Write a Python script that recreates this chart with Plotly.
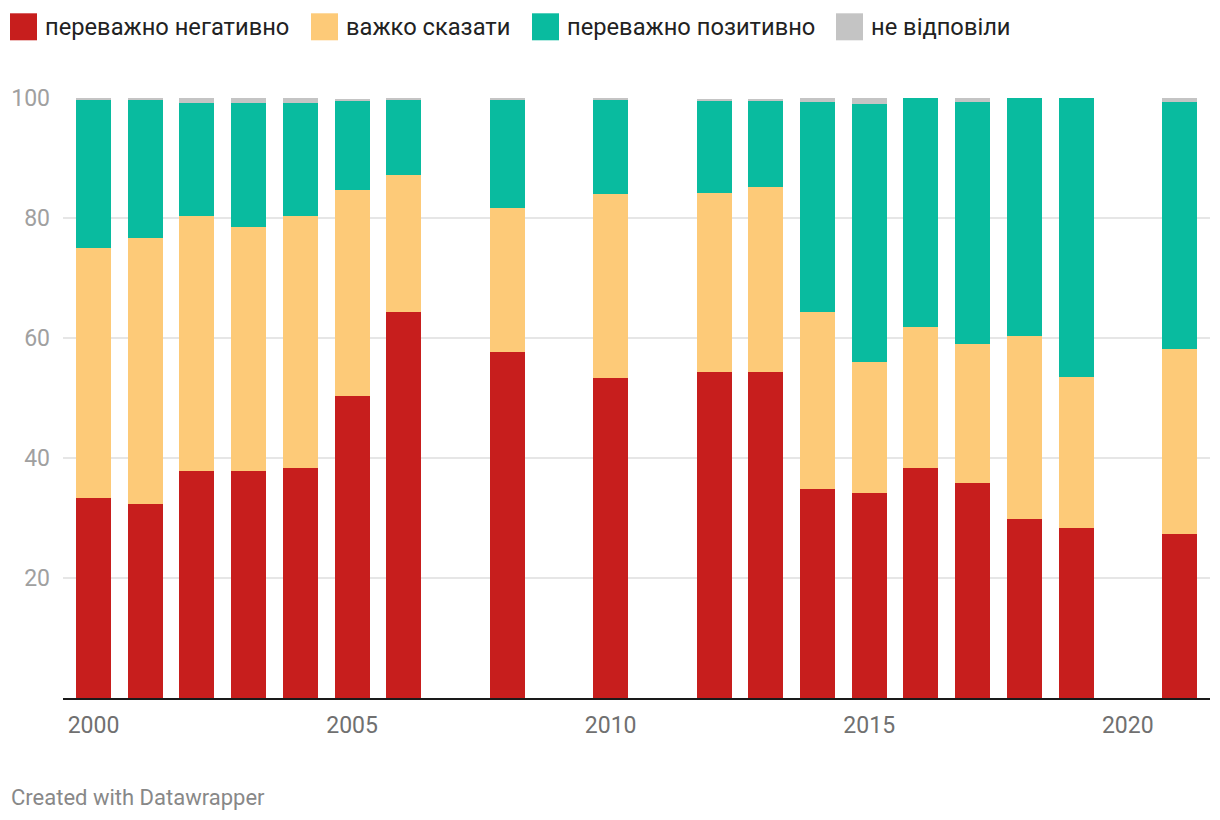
import plotly.graph_objects as go

years = [2000, 2001, 2002, 2003, 2004, 2005, 2006, 2008, 2010, 2012, 2013,
         2014, 2015, 2016, 2017, 2018, 2019, 2021]
negative = [33.4, 32.4, 37.8, 37.8, 38.4, 50.3, 64.3, 57.6, 53.3, 54.3, 54.3,
            34.8, 34.1, 38.3, 35.8, 29.8, 28.4, 27.3]
hard_to_say = [41.6, 44.3, 42.6, 40.7, 42.0, 34.3, 22.8, 24.0, 30.7, 29.8, 30.8,
               29.6, 21.9, 23.5, 23.2, 30.5, 25.1, 30.8]
positive = [24.8, 22.9, 18.7, 20.6, 18.7, 15.0, 12.7, 18.0, 15.6, 15.4, 14.4,
            34.9, 43.0, 38.2, 40.3, 39.7, 46.5, 41.2]
no_answer = [0.2, 0.4, 0.9, 0.9, 0.9, 0.2, 0.2, 0.4, 0.4, 0.4, 0.4,
             0.7, 1.0, 0.0, 0.7, 0.0, 0.0, 0.7]

series_names = ["переважно негативно", "важко сказати", "переважно позитивно", "не відповіли"]
series_colors = ["#c71e1d", "#fdca78", "#09bb9f", "#c4c4c4"]
series_values = [negative, hard_to_say, positive, no_answer]

y_ticks = [20, 40, 60, 80, 100]
x_ticks = [2000, 2005, 2010, 2015, 2020]

FONT = "Roboto, Arial, sans-serif"
OFF = 8  # default page body margin
W, H = 1220 - 2 * OFF, 820 - 2 * OFF
PLOT_LEFT, PLOT_RIGHT, PLOT_TOP, PLOT_BOTTOM = 63, 1210, 97.7, 697.7  # page pixels
ML = PLOT_LEFT - OFF
MR = W - (PLOT_RIGHT - OFF)
MT = PLOT_TOP - OFF
MB = H - (PLOT_BOTTOM - OFF)

fig = go.Figure()
for name, color, vals in zip(series_names, series_colors, series_values):
    fig.add_trace(go.Bar(x=years, y=vals, name=name, marker_color=color,
                         marker_line_width=0, width=0.677, showlegend=False))

fig.update_layout(
    barmode="stack",
    width=W, height=H,
    margin=dict(l=ML, r=MR, t=MT, b=MB, pad=0),
    plot_bgcolor="white", paper_bgcolor="white",
    font=dict(family=FONT),
    xaxis=dict(range=[1999.41, 2021.59], tickvals=x_ticks, ticktext=[str(v) for v in x_ticks],
               showgrid=False, zeroline=False, showline=True, linecolor="#1a1a1a", linewidth=2,
               ticks="", tickfont=dict(size=23, color="#707070", family=FONT),
               ticklabelstandoff=5),
    yaxis=dict(range=[0, 100], tickvals=y_ticks, showgrid=True, gridcolor="#e6e6e6", gridwidth=2,
               zeroline=False, showline=False, ticks="",
               tickfont=dict(size=23, color="#a0a0a0", family=FONT), ticklabelstandoff=12),
)

pw = W - ML - MR
ph = H - MT - MB


def px_x(px):
    return (px - PLOT_LEFT) / pw


def px_y(py):
    return (PLOT_BOTTOM - py) / ph


legend_x = [10, 311, 532, 836]
for name, color, lx in zip(series_names, series_colors, legend_x):
    fig.add_shape(type="rect", xref="paper", yref="paper",
                  x0=px_x(lx), x1=px_x(lx + 27), y0=px_y(40), y1=px_y(13),
                  fillcolor=color, line_width=0)
    fig.add_annotation(text=name, xref="paper", yref="paper", x=px_x(lx + 33), y=px_y(27),
                       xanchor="left", yanchor="middle", showarrow=False,
                       font=dict(size=23.7, color="#222222", family=FONT))

fig.add_annotation(text="Created with Datawrapper", xref="paper", yref="paper",
                   x=px_x(9), y=px_y(797), xanchor="left", yanchor="middle", showarrow=False,
                   font=dict(size=22, color="#888888", family=FONT))

fig.write_html("out.html")
